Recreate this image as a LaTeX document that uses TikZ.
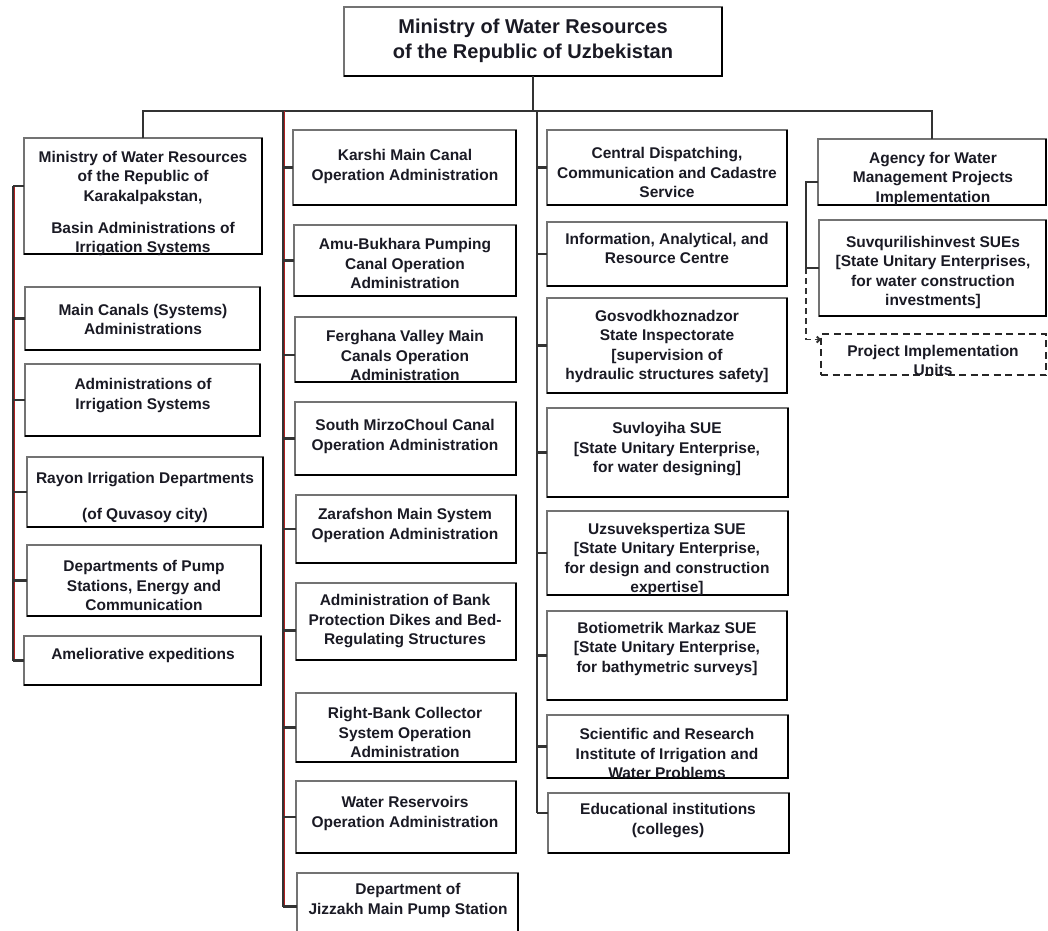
\documentclass[tikz,border=0pt]{standalone}
\usepackage{fontspec}
\setmainfont{Liberation Sans}
\usetikzlibrary{arrows.meta}
\definecolor{ink}{HTML}{1A1A24}
\definecolor{lnc}{HTML}{333333}
\definecolor{redl}{HTML}{B02020}
\tikzset{
  boxst/.style={draw=black!55, line width=1.3pt, fill=white, inner sep=0pt, outer sep=0pt},
  dboxst/.style={draw=black!85, line width=1.8pt, dash pattern=on 7pt off 4.5pt, inner sep=0pt, outer sep=0pt},
  edgeln/.style={draw=black, line width=2.2pt},
  txt/.style={inner sep=0pt, align=center, text=ink, yshift=-2.5pt, font=\fontsize{15.5}{19.5}\selectfont\bfseries},
  bigtxt/.style={inner sep=0pt, align=center, text=ink, yshift=-2pt, font=\fontsize{20}{25}\selectfont\bfseries},
  ln/.style={draw=lnc, line width=2.3pt},
  redln/.style={draw=redl, line width=0.9pt},
}
\newcommand{\bx}[5]{%
  \node[boxst, minimum width={#4pt-#2pt}, minimum height={#5pt-#3pt}] (#1) at ({(#2+#4)/2},{(#3+#5)/2}) {};
  \draw[edgeln] (#1.north east) -- (#1.south east) -- (#1.south west);
}
\newcommand{\tx}[4]{\node[txt] (#1) at (#2,#3) {#4};}
\begin{document}
\begin{tikzpicture}[x=1pt,y=-1pt]
\clip (0,0) rectangle (1048,930);
\fill[white] (0,0) rectangle (1048,930);

% ---------- boxes ----------
\bx{top}{344}{7}{722}{76}
\node[bigtxt] (topt) at (533,38.5) {Ministry of Water Resources\\of the Republic of Uzbekistan};

% left column
\bx{l1}{24}{138}{262}{254}
\tx{l1t}{143}{201}{Ministry of Water Resources\\of the Republic of\\Karakalpakstan,\\[12.5pt]Basin Administrations of\\Irrigation Systems}
\bx{l2}{25}{287}{260}{350}
\tx{l2t}{143}{317}{Main Canals (Systems)\\Administrations}
\bx{l3}{25}{364}{260}{436}
\tx{l3t}{143}{393}{Administrations of\\Irrigation Systems}
\bx{l4}{27}{457}{263}{527}
\tx{l4t}{145}{495}{Rayon Irrigation Departments\\[16.5pt](of Quvasoy city)}
\bx{l5}{27}{545}{261}{616}
\tx{l5t}{144}{583}{Departments of Pump\\Stations, Energy and\\Communication}
\bx{l6}{24}{636}{261}{685}
\tx{l6t}{143}{653}{Ameliorative expeditions}

% second column
\bx{k1}{293}{130}{516}{205}
\tx{k1t}{405}{164}{Karshi Main Canal\\Operation Administration}
\bx{k2}{294}{225}{516}{296}
\tx{k2t}{405}{261}{Amu-Bukhara Pumping\\Canal Operation\\Administration}
\bx{k3}{295}{317}{516}{382}
\tx{k3t}{405}{353}{Ferghana Valley Main\\Canals Operation\\Administration}
\bx{k4}{295}{402}{516}{475}
\tx{k4t}{405}{434}{South MirzoChoul Canal\\Operation Administration}
\bx{k5}{296}{495}{516}{563}
\tx{k5t}{405}{523}{Zarafshon Main System\\Operation Administration}
\bx{k6}{296}{583}{516}{660}
\tx{k6t}{405}{619}{Administration of Bank\\Protection Dikes and Bed-\\Regulating Structures}
\bx{k7}{296}{693}{516}{762}
\tx{k7t}{405}{730}{Right-Bank Collector\\System Operation\\Administration}
\bx{k8}{296}{781}{516}{853}
\tx{k8t}{405}{811}{Water Reservoirs\\Operation Administration}
\bx{k9}{297}{873}{518}{940}
\tx{k9t}{408}{898}{Department of\\Jizzakh Main Pump Station}

% third column
\bx{m1}{547}{130}{787}{205}
\tx{m1t}{667}{170}{Central Dispatching,\\Communication and Cadastre\\Service}
\bx{m2}{547}{222}{787}{286}
\tx{m2t}{667}{246}{Information, Analytical, and\\Resource Centre}
\bx{m3}{547}{298}{787}{393}
\tx{m3t}{667}{344}{Gosvodkhoznadzor\\State Inspectorate\\{[}supervision of\\hydraulic structures safety]}
\bx{m4}{547}{408}{788}{497}
\tx{m4t}{667}{447}{Suvloyiha SUE\\{[}State Unitary Enterprise,\\for water designing]}
\bx{m5}{547}{511}{788}{595}
\tx{m5t}{667}{557}{Uzsuvekspertiza SUE\\{[}State Unitary Enterprise,\\for design and construction\\expertise]}
\bx{m6}{547}{611}{787}{700}
\tx{m6t}{667}{646}{Botiometrik Markaz SUE\\{[}State Unitary Enterprise,\\for bathymetric surveys]}
\bx{m7}{547}{715}{788}{778}
\tx{m7t}{667}{751}{Scientific and Research\\Institute of Irrigation and\\Water Problems}
\bx{m8}{548}{793}{789}{853}
\tx{m8t}{668}{818}{Educational institutions\\(colleges)}

% fourth column
\bx{a1}{818}{139}{1046}{205}
\tx{a1t}{933}{176}{Agency for Water\\Management Projects\\Implementation}
\bx{a2}{819}{220}{1046}{316}
\tx{a2t}{933}{270}{Suvqurilishinvest SUEs\\{[}State Unitary Enterprises,\\for water construction\\investments]}
\node[dboxst, minimum width=225pt, minimum height=41pt] (p1) at (933.5,354.5) {};
\tx{p1t}{933}{358}{Project Implementation\\Units}

% ---------- connectors ----------
\coordinate (bus) at (537,111);
\draw[ln] (top.south) -- (top.south |- bus);
\draw[ln] (l1.north) -- (l1.north |- bus) -- (a1.north |- bus) -- (a1.north);

% shifted tick points
\coordinate (l1w) at ([yshift=10pt]l1.west);
\coordinate (k3w) at ([yshift=-5.5pt]k3.west);
\coordinate (k6w) at ([yshift=-9pt]k6.west);
\coordinate (m8w) at ([yshift=10pt]m8.west);
\coordinate (a1w) at ([yshift=-10pt]a1.west);
\coordinate (p1w) at ([yshift=15pt]p1.west);

% left bracket
\coordinate (c1) at (13,0);
\draw[ln] (c1 |- l1w) -- (c1 |- l6.west);
\draw[redln] ([xshift=1.7pt]c1 |- l1w) -- ([xshift=1.7pt]c1 |- l6.west);
\draw[ln] (c1 |- l1w) -- (l1w);
\foreach \n in {l2,l3,l4,l5,l6} \draw[ln] (c1 |- \n.west) -- (\n.west);

% second column
\coordinate (c2) at (283,111);
\draw[ln] (c2) -- (c2 |- k9.west);
\draw[redln] ([xshift=1.8pt]c2) -- ([xshift=1.8pt]c2 |- k9.west);
\foreach \n in {k1,k2,k4,k5,k7,k8,k9} \draw[ln] (c2 |- \n.west) -- (\n.west);
\draw[ln] (c2 |- k3w) -- (k3w);
\draw[ln] (c2 |- k6w) -- (k6w);

% third column
\draw[ln] (bus) -- (bus |- m8w);
\foreach \n in {m1,m2,m3,m4,m5,m6,m7} \draw[ln] (bus |- \n.west) -- (\n.west);
\draw[ln] (bus |- m8w) -- (m8w);

% fourth column
\coordinate (rb) at (806,0);
\draw[ln, line width=1.8pt] (a1w) -| (rb |- a2.west) -- (a2.west);
\draw[ln, line width=1.8pt, dash pattern=on 6pt off 4pt, -{Straight Barb[length=3pt,width=6pt]}] (rb |- a2.west) |- (p1w);
\end{tikzpicture}
\end{document}
